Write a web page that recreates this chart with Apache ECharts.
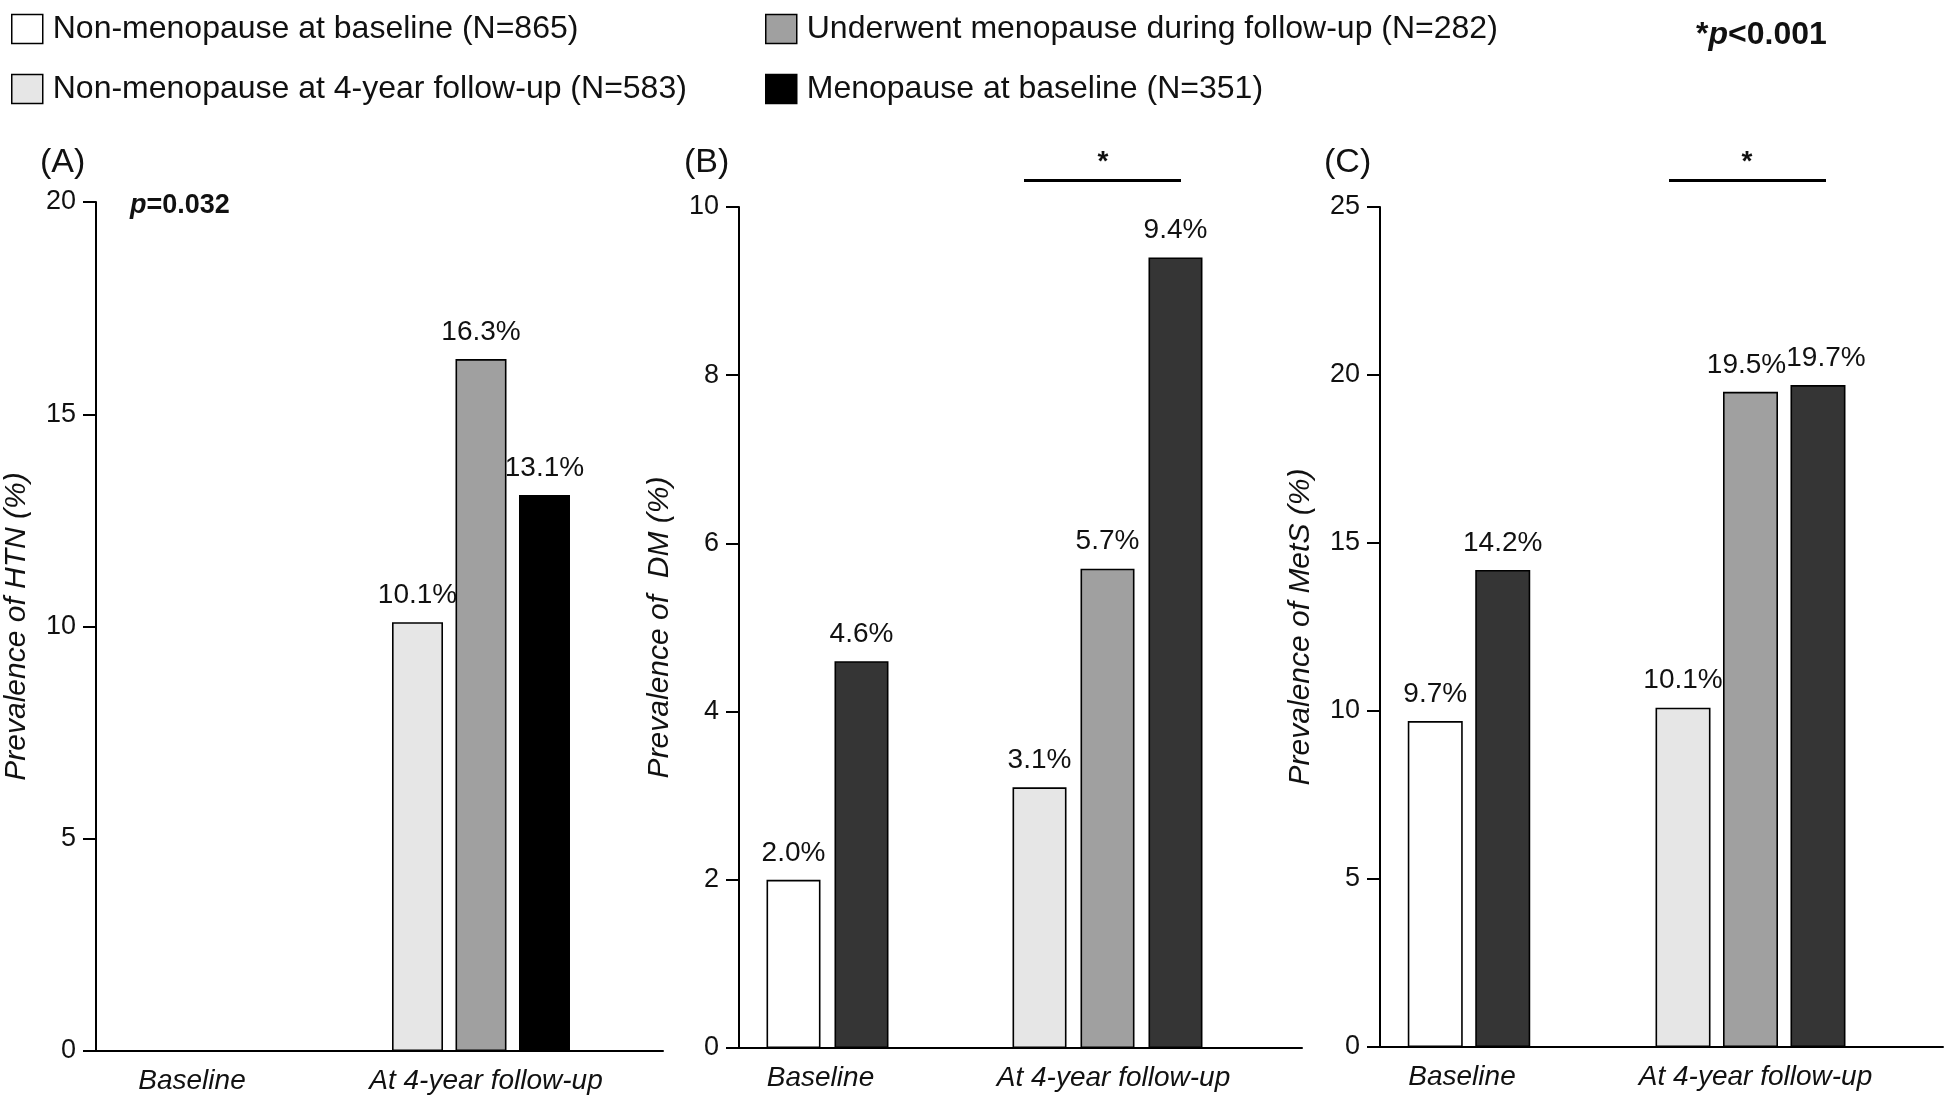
<!DOCTYPE html>
<html>
<head>
<meta charset="utf-8">
<script src="https://cdn.jsdelivr.net/npm/echarts@6/dist/echarts.min.js"></script>
<style>
html,body{margin:0;padding:0;background:#fff;}
#chart{width:1946px;height:1114px;}
</style>
</head>
<body>
<div id="chart"></div>
<script>
// ---------------- DATA ----------------
const categories = ['Baseline', 'At 4-year follow-up'];
const groupNames = [
  'Non-menopause at baseline (N=865)',
  'Non-menopause at 4-year follow-up (N=583)',
  'Underwent menopause during follow-up (N=282)',
  'Menopause at baseline (N=351)'
];
// each row = one group, columns = [Baseline, At 4-year follow-up]
const htnValues  = [[null, null], [null, 10.1], [null, 16.3], [null, 13.1]];
const dmValues   = [[2.0, null],  [null, 3.1],  [null, 5.7],  [4.6, 9.4]];
const metsValues = [[9.7, null],  [null, 10.1], [null, 19.5], [14.2, 19.7]];
const htnTicks  = [0, 5, 10, 15, 20];
const dmTicks   = [0, 2, 4, 6, 8, 10];
const metsTicks = [0, 5, 10, 15, 20, 25];
const yNames = ['Prevalence of HTN (%)', 'Prevalence of  DM (%)', 'Prevalence of MetS (%)'];
const panelTags = ['(A)', '(B)', '(C)'];

// ---------------- STYLE / LAYOUT ----------------
const FONT = "'Liberation Sans', Arial, Helvetica, sans-serif";
const TXT = '#111';
const groupColors = ['#ffffff', '#e6e6e6', '#a0a0a0', '#353535'];
const panels = [
  {values: htnValues,  ticks: htnTicks,  left: 96,   top: 202, bottom: 1051, right: 663,  centers: [192, 481],     labelShift: [0, 5],  barW: 51, gap: 12.5, dark: '#000000', labelOffsets: {}},
  {values: dmValues,   ticks: dmTicks,   left: 739,  top: 207, bottom: 1048, right: 1302, centers: [827.5, 1107.5], labelShift: [-7, 6], barW: 54, gap: 14,   dark: '#353535', labelOffsets: {}},
  {values: metsValues, ticks: metsTicks, left: 1380, top: 207, bottom: 1047, right: 1943, centers: [1469, 1750.5],  labelShift: [-7, 5], barW: 55, gap: 12.5, dark: '#353535', labelOffsets: {'1-2': [-4, 0], '1-3': [8, 0]}}
];

const grid = [], xAxis = [], yAxis = [], series = [];
panels.forEach((p, pi) => {
  const tmin = p.ticks[0], tmax = p.ticks[p.ticks.length - 1], tint = p.ticks[1] - p.ticks[0];
  const h = p.bottom - p.top;
  let gi = grid.length;
  grid.push({left: p.left, top: p.top, width: p.right - p.left, height: h});
  xAxis.push({gridIndex: gi, type: 'category', data: categories,
    axisLine: {show: true, lineStyle: {color: '#000', width: 2}},
    axisTick: {show: false}, axisLabel: {show: false}, splitLine: {show: false}});
  yAxis.push({gridIndex: gi, type: 'value', min: tmin, max: tmax, interval: tint,
    axisLine: {show: true, lineStyle: {color: '#000', width: 2}},
    axisTick: {show: true, inside: false, length: 13, lineStyle: {color: '#000', width: 2}},
    axisLabel: {fontSize: 27, margin: 20, color: TXT, fontFamily: FONT},
    splitLine: {show: false},
    name: yNames[pi], nameLocation: 'middle', nameGap: 64,
    nameTextStyle: {fontSize: 30, fontStyle: 'italic', color: TXT, fontFamily: FONT}});
  categories.forEach((cat, g) => {
    const gg = grid.length;
    const sh = p.labelShift[g];
    grid.push({left: p.centers[g] - 140, top: p.top, width: 280, height: h});
    xAxis.push({gridIndex: gg, type: 'category', data: [cat],
      axisLine: {show: false}, axisTick: {show: false},
      axisLabel: {fontSize: 28, fontStyle: 'italic', margin: 16, color: TXT, fontFamily: FONT,
        padding: sh >= 0 ? [0, 0, 0, 2 * sh] : [0, -2 * sh, 0, 0]}});
    yAxis.push({gridIndex: gg, type: 'value', min: tmin, max: tmax, interval: tint, show: false});
    groupNames.forEach((name, s) => {
      const v = p.values[s][g];
      if (v === null) return;
      series.push({
        type: 'bar', name: name, xAxisIndex: gg, yAxisIndex: gg,
        data: [v], barWidth: p.barW, barGap: (p.gap / p.barW * 100).toFixed(1) + '%',
        itemStyle: {color: s === 3 ? p.dark : groupColors[s], borderColor: '#000', borderWidth: 1.6},
        label: {show: true, position: 'top', distance: 13, fontSize: 28, color: TXT, fontFamily: FONT,
          offset: p.labelOffsets[g + '-' + s] || [0, 0],
          formatter: (prm) => prm.value.toFixed(1) + '%'},
        emphasis: {disabled: true}, animation: false
      });
    });
  });
});

const legendBase = {
  orient: 'vertical', top: 8, itemGap: 28, itemWidth: 31, itemHeight: 29, icon: 'rect',
  selectedMode: false,
  itemStyle: {borderColor: '#000', borderWidth: 1.5},
  textStyle: {fontSize: 32, color: TXT, fontFamily: FONT, padding: [0, 0, 0, 5]}
};

const graphic = [
  {type: 'text', x: 40, y: 163, style: {text: panelTags[0], fontSize: 34, fontFamily: FONT, fill: TXT, verticalAlign: 'middle'}},
  {type: 'text', x: 684, y: 163, style: {text: panelTags[1], fontSize: 34, fontFamily: FONT, fill: TXT, verticalAlign: 'middle'}},
  {type: 'text', x: 1324, y: 163, style: {text: panelTags[2], fontSize: 34, fontFamily: FONT, fill: TXT, verticalAlign: 'middle'}},
  {type: 'text', x: 130, y: 206, style: {text: '{i|p}=0.032', fontSize: 27, fontWeight: 'bold', fontFamily: FONT, fill: TXT, verticalAlign: 'middle',
    rich: {i: {fontSize: 27, fontWeight: 'bold', fontStyle: 'italic', fontFamily: FONT, fill: TXT}}}},
  {type: 'text', x: 1696, y: 35, style: {text: '*{i|p}<0.001', fontSize: 32, fontWeight: 'bold', fontFamily: FONT, fill: TXT, verticalAlign: 'middle',
    rich: {i: {fontSize: 32, fontWeight: 'bold', fontStyle: 'italic', fontFamily: FONT, fill: TXT}}}},
  {type: 'line', shape: {x1: 1024, y1: 180.5, x2: 1181, y2: 180.5}, style: {stroke: '#000', lineWidth: 3}},
  {type: 'text', x: 1103, y: 162, style: {text: '*', fontSize: 28, fontWeight: 'bold', fontFamily: FONT, fill: TXT, align: 'center', verticalAlign: 'middle'}},
  {type: 'line', shape: {x1: 1669, y1: 180.5, x2: 1826, y2: 180.5}, style: {stroke: '#000', lineWidth: 3}},
  {type: 'text', x: 1747, y: 162, style: {text: '*', fontSize: 28, fontWeight: 'bold', fontFamily: FONT, fill: TXT, align: 'center', verticalAlign: 'middle'}}
];

const chart = echarts.init(document.getElementById('chart'), null, {renderer: 'canvas'});
chart.setOption({
  backgroundColor: '#fff',
  animation: false,
  textStyle: {fontFamily: FONT},
  legend: [
    Object.assign({}, legendBase, {left: 6, data: [groupNames[0], groupNames[1]]}),
    Object.assign({}, legendBase, {left: 760, data: [groupNames[2], groupNames[3]]})
  ],
  grid: grid, xAxis: xAxis, yAxis: yAxis, series: series, graphic: graphic
});
</script>
</body>
</html>
